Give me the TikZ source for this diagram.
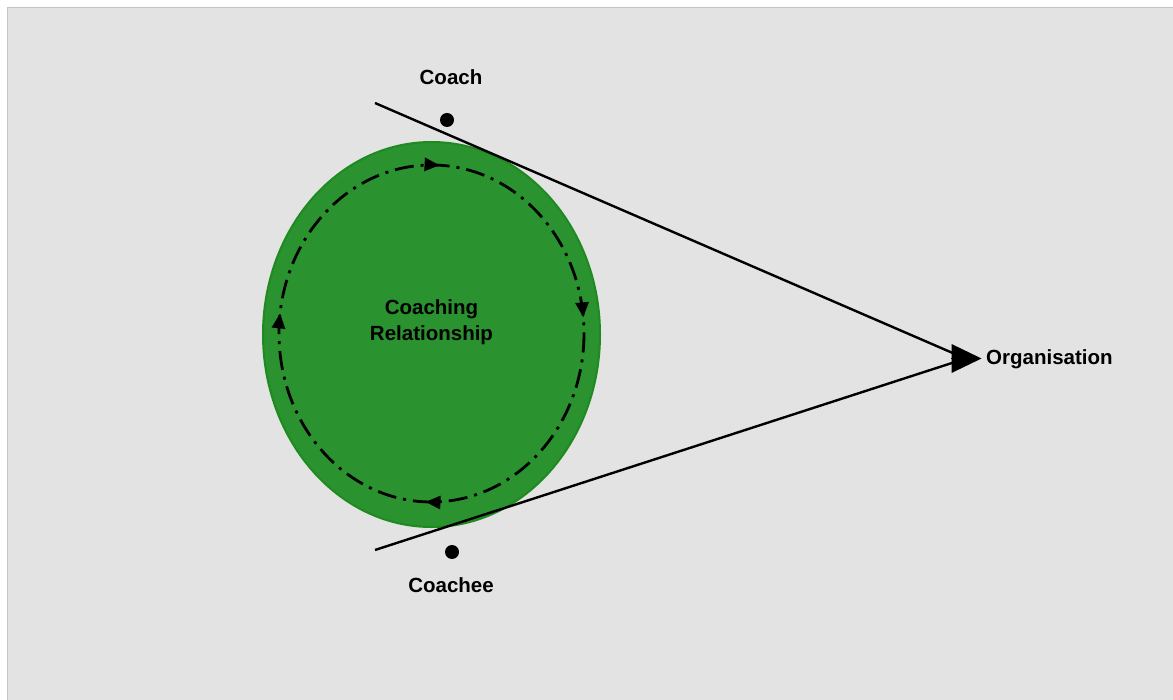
\documentclass[tikz,border=0pt]{standalone}
\usepackage{fontspec}
\setmainfont{Liberation Sans}
\usetikzlibrary{arrows.meta,decorations.markings,shapes.geometric}
\definecolor{panel}{HTML}{E3E3E3}
\definecolor{panelrule}{HTML}{C4C4C4}
\definecolor{relfill}{HTML}{2A922E}
\definecolor{relrule}{HTML}{1F8A1F}
\begin{document}
\begin{tikzpicture}[x=1pt,y=-1pt,
  lbl/.style={font=\fontsize{20.5}{26}\selectfont\bfseries, inner sep=0pt},
  dot/.style={circle, fill=black, minimum size=14pt, inner sep=0pt},
  tangent/.style={line width=2.4pt, black},
  loop/.style={line width=2.8pt, dash pattern=on 19pt off 7pt on 3pt off 7pt,
    postaction={decorate},
    decoration={markings,
      mark=at position 0.256 with {\arrow{Triangle[length=15pt,width=13pt]}},
      mark=at position 0.52 with {\arrow{Triangle[length=15pt,width=13pt]}},
      mark=at position 0.758 with {\arrow{Triangle[length=15pt,width=13pt]}},
      mark=at position 0.984 with {\arrow{Triangle[length=15pt,width=13pt]}}}}
]
\useasboundingbox (0,0) rectangle (1173,700);
% page and panel
\fill[white] (0,0) rectangle (1173,700);
\fill[panel] (7,7) rectangle (1173,700);
\draw[panelrule, line width=1.3pt] (7.6,700) -- (7.6,7.6) -- (1173,7.6);

% the relationship
\node[ellipse, draw=relrule, line width=2pt, fill=relfill,
      minimum width=337pt, minimum height=385pt, inner sep=0pt] (rel) at (431.5,334.5) {};
\draw[loop] (431.5,333.5) ellipse [x radius=152.5, y radius=168.5];
\node[lbl, align=center] (reltext) at (431.5,322.5) {Coaching\\Relationship};

% parties
\node[dot] (coachdot) at (447,120) {};
\node[dot] (coacheedot) at (452,552) {};
\node[lbl, anchor=base] (coach) at (451,85) {Coach};
\node[lbl, anchor=base] (coachee) at (451,592.5) {Coachee};
\node[lbl, anchor=base west] (org) at (986,365) {Organisation};

% lines towards the organisation
\coordinate (ua) at (375,103);
\coordinate (ub) at (955,354);
\coordinate (la) at (375,550);
\coordinate (lb) at (955,362);
\coordinate (hub) at (952,358.5);
\draw[tangent] (ua) -- (ub);
\draw[tangent] (la) -- (lb);
\draw[line width=0pt, -{Triangle[length=30pt,width=29pt]}, shorten >=4.5pt] (hub) -- (org.base west |- hub);
\end{tikzpicture}
\end{document}
